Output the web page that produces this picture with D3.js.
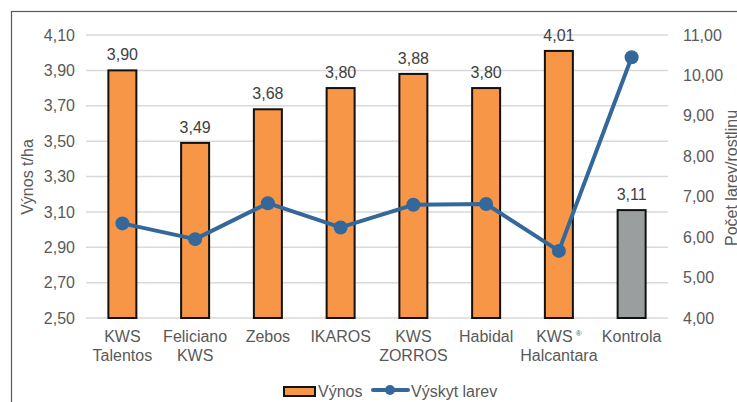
<!DOCTYPE html>
<html>
<head>
<meta charset="utf-8">
<script src="https://d3js.org/d3.v7.min.js"></script>
<style>
  html, body { margin: 0; padding: 0; background: #fff; }
  svg { display: block; font-family: "Liberation Sans", Arial, sans-serif; }
</style>
</head>
<body>
<svg id="chart" width="737" height="402"></svg>
<script>
// data
var categories = [["KWS", "Talentos"], ["Feliciano", "KWS"], ["Zebos"], ["IKAROS"],
                  ["KWS", "ZORROS"], ["Habidal"], ["KWS\u00ae", "Halcantara"], ["Kontrola"]];
var vynos = [3.90, 3.49, 3.68, 3.80, 3.88, 3.80, 4.01, 3.11];
var larvy = [6.34, 5.95, 6.84, 6.24, 6.80, 6.82, 5.66, 10.45];
var leftTicks = [2.5, 2.7, 2.9, 3.1, 3.3, 3.5, 3.7, 3.9, 4.1];
var rightTicks = [4, 5, 6, 7, 8, 9, 10, 11];

var svg = d3.select("#chart");
var fmt = function(d) { return d3.format(".2f")(d).replace(".", ","); };

// outer frame
svg.append("rect").attr("x", 11.5).attr("y", 11.5).attr("width", 800).attr("height", 500)
    .attr("fill", "none").attr("stroke", "#595959").attr("stroke-width", 1.2);

var plotL = 86, plotR = 668, plotT = 35, plotB = 318;

var x = d3.scaleBand().domain(d3.range(categories.length)).range([plotL, plotR]);
var yL = d3.scaleLinear().domain([2.5, 4.1]).range([plotB, plotT]);
var yR = d3.scaleLinear().domain([4, 11]).range([plotB, plotT]);

// gridlines
svg.append("g").selectAll("line").data(leftTicks).enter().append("line")
    .attr("x1", plotL).attr("x2", plotR)
    .attr("y1", function(d) { return yL(d); }).attr("y2", function(d) { return yL(d); })
    .attr("stroke", "#d9d9d9").attr("stroke-width", 1.5);

// left axis
var axL = svg.append("g").attr("transform", "translate(" + (plotL - 11) + ",0)")
    .call(d3.axisLeft(yL).tickValues(leftTicks).tickFormat(fmt).tickSize(0).tickPadding(0));
axL.select(".domain").remove();
axL.selectAll("text").attr("font-size", 16).attr("fill", "#595959").attr("font-family", null);

// right axis
var axR = svg.append("g").attr("transform", "translate(" + (plotR + 15) + ",0)")
    .call(d3.axisRight(yR).tickValues(rightTicks).tickFormat(fmt).tickSize(0).tickPadding(0));
axR.select(".domain").remove();
axR.selectAll("text").attr("font-size", 16).attr("fill", "#595959").attr("font-family", null);
svg.selectAll(".tick text").attr("font-family", "Liberation Sans, Arial, sans-serif");

// axis titles
svg.append("text").attr("transform", "translate(33,177) rotate(-90)")
    .attr("text-anchor", "middle").attr("font-size", 16).attr("fill", "#595959").text("Výnos t/ha");
svg.append("text").attr("transform", "translate(737,178) rotate(-90)")
    .attr("text-anchor", "middle").attr("font-size", 16).attr("fill", "#595959").text("Počet larev/rostlinu");

// bars
var bw = 28;
svg.append("g").selectAll("rect").data(vynos).enter().append("rect")
    .attr("x", function(d, i) { return x(i) + x.bandwidth() / 2 - bw / 2; })
    .attr("y", function(d) { return yL(d); })
    .attr("width", bw)
    .attr("height", function(d) { return yL(2.5) - yL(d); })
    .attr("fill", function(d, i) { return i === vynos.length - 1 ? "#9b9e9e" : "#f79646"; })
    .attr("stroke", "#111").attr("stroke-width", 2);

// bar labels
svg.append("g").selectAll("text").data(vynos).enter().append("text")
    .attr("x", function(d, i) { return x(i) + x.bandwidth() / 2; })
    .attr("y", function(d) { return yL(d) - 10; })
    .attr("text-anchor", "middle").attr("font-size", 16).attr("fill", "#404040")
    .text(fmt);

// category labels
var cat = svg.append("g").selectAll("text").data(categories).enter().append("text")
    .attr("text-anchor", "middle").attr("font-size", 16).attr("fill", "#595959");
cat.each(function(lines, i) {
  var t = d3.select(this);
  lines.forEach(function(s, j) {
    var cx = x(i) + x.bandwidth() / 2;
    if (s.indexOf("\u00ae") >= 0) {
      t.append("tspan").attr("x", cx).attr("y", 342 + j * 19).text(s.replace("\u00ae", ""));
      t.append("tspan").attr("font-size", 8).attr("dy", -6).attr("dx", 3).text("\u00ae");
    } else {
      t.append("tspan").attr("x", cx).attr("y", 342 + j * 19).text(s);
    }
  });
});

// line series
var line = d3.line()
    .x(function(d, i) { return x(i) + x.bandwidth() / 2; })
    .y(function(d) { return yR(d); });
svg.append("path").datum(larvy).attr("d", line)
    .attr("fill", "none").attr("stroke", "#34679a").attr("stroke-width", 4).attr("stroke-linejoin", "round");
svg.append("g").selectAll("circle").data(larvy).enter().append("circle")
    .attr("cx", function(d, i) { return x(i) + x.bandwidth() / 2; })
    .attr("cy", function(d) { return yR(d); })
    .attr("r", 7).attr("fill", "#34679a");

// legend
var lg = svg.append("g");
lg.append("rect").attr("x", 284).attr("y", 387).attr("width", 31).attr("height", 9)
    .attr("fill", "#f79646").attr("stroke", "#111").attr("stroke-width", 2);
lg.append("text").attr("x", 318).attr("y", 397).attr("font-size", 16).attr("fill", "#595959").text("Výnos");
lg.append("line").attr("x1", 373).attr("x2", 408).attr("y1", 390).attr("y2", 390)
    .attr("stroke", "#34679a").attr("stroke-width", 4).attr("stroke-linecap", "round");
lg.append("circle").attr("cx", 390).attr("cy", 390).attr("r", 5).attr("fill", "#34679a");
lg.append("text").attr("x", 411).attr("y", 397).attr("font-size", 16).attr("fill", "#595959").text("Výskyt larev");
</script>
</body>
</html>
